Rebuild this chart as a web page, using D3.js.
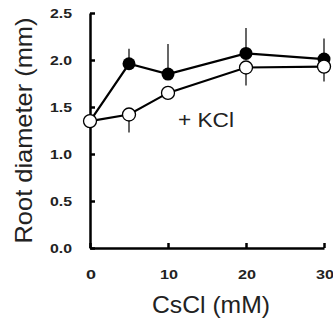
<!DOCTYPE html>
<html>
<head>
<meta charset="utf-8">
<script src="https://cdn.jsdelivr.net/npm/d3@7"></script>
<style>
  body { margin: 0; background: #fff; }
  text { font-family: "Liberation Sans", Arial, sans-serif; }
</style>
</head>
<body>
<script>
const width = 333;
const height = 323;

const conc = [0, 5, 10, 20, 30];
const csOnly = [1.35, 1.96, 1.85, 2.07, 2.01];
const csOnlyErrUp = [0, 0.16, 0.32, 0.27, 0.22];
const withKcl = [1.35, 1.42, 1.65, 1.92, 1.93];
const withKclErrDown = [0, 0.19, 0, 0.19, 0.16];
const xTicks = [0, 10, 20, 30];
const yTicks = [0, 0.5, 1.0, 1.5, 2.0, 2.5];

const margin = { left: 90, right: 9, top: 13, bottom: 75 };

const svg = d3.select('body')
  .append('svg')
  .attr('width', width)
  .attr('height', height);

const x = d3.scaleLinear().domain([0, 30]).range([margin.left, width - margin.right]);
const y = d3.scaleLinear().domain([0, 2.5]).range([height - margin.bottom, margin.top]);

// axes, ticks pointing inward
svg.append('g')
  .attr('transform', `translate(0,${y(0)})`)
  .call(d3.axisTop(x).tickValues(xTicks).tickSize(5).tickSizeOuter(0).tickFormat(''));
svg.append('g')
  .attr('transform', `translate(${x(0)},0)`)
  .call(d3.axisRight(y).tickValues(yTicks).tickSize(5).tickSizeOuter(0).tickFormat(''));
svg.selectAll('.domain, .tick line').attr('stroke', '#000').attr('stroke-width', 2.5);

// the original is stretched sideways, so labels get a textLength
svg.selectAll('.xlab')
  .data(xTicks)
  .enter().append('text')
  .attr('x', d => x(d) + 1)
  .attr('y', y(0) + 31)
  .attr('text-anchor', 'middle')
  .attr('font-size', 13)
  .attr('font-weight', 'bold')
  .attr('fill', '#222')
  .attr('textLength', d => d === 0 ? 10 : 18)
  .attr('lengthAdjust', 'spacingAndGlyphs')
  .text(d => d);

svg.selectAll('.ylab')
  .data(yTicks)
  .enter().append('text')
  .attr('x', x(0) - 18)
  .attr('y', d => y(d) + 4.5)
  .attr('text-anchor', 'end')
  .attr('font-size', 12)
  .attr('font-weight', 'bold')
  .attr('fill', '#222')
  .attr('textLength', 22)
  .attr('lengthAdjust', 'spacingAndGlyphs')
  .text(d => d.toFixed(1));

svg.append('text')
  .attr('transform', `translate(32,${(y(0) + y(2.5)) / 2}) rotate(-90)`)
  .attr('text-anchor', 'middle')
  .attr('font-size', 24)
  .attr('fill', '#222')
  .attr('textLength', 226)
  .attr('lengthAdjust', 'spacingAndGlyphs')
  .text('Root diameter (mm)');

svg.append('text')
  .attr('x', 211)
  .attr('y', 313)
  .attr('text-anchor', 'middle')
  .attr('font-size', 24)
  .attr('fill', '#222')
  .attr('textLength', 118)
  .attr('lengthAdjust', 'spacingAndGlyphs')
  .text('CsCl (mM)');

svg.append('text')
  .attr('x', 178)
  .attr('y', 127)
  .attr('font-size', 20)
  .attr('fill', '#222')
  .attr('textLength', 56)
  .attr('lengthAdjust', 'spacingAndGlyphs')
  .text('+ KCl');

// error bars
svg.selectAll('.errUp')
  .data(conc)
  .enter().append('line')
  .attr('x1', d => x(d)).attr('x2', d => x(d))
  .attr('y1', (d, i) => y(csOnly[i]))
  .attr('y2', (d, i) => y(csOnly[i] + csOnlyErrUp[i]))
  .attr('stroke', '#000').attr('stroke-width', 1.2);

svg.selectAll('.errDown')
  .data(conc)
  .enter().append('line')
  .attr('x1', d => x(d)).attr('x2', d => x(d))
  .attr('y1', (d, i) => y(withKcl[i]))
  .attr('y2', (d, i) => y(withKcl[i] - withKclErrDown[i]))
  .attr('stroke', '#000').attr('stroke-width', 1.2);

const line = d3.line().x((d, i) => x(conc[i])).y(d => y(d));

svg.append('path').datum(csOnly).attr('d', line)
  .attr('fill', 'none').attr('stroke', '#000').attr('stroke-width', 2.2);
svg.append('path').datum(withKcl).attr('d', line)
  .attr('fill', 'none').attr('stroke', '#000').attr('stroke-width', 2.2);

svg.selectAll('.dotFilled')
  .data(csOnly)
  .enter().append('circle')
  .attr('cx', (d, i) => x(conc[i])).attr('cy', d => y(d))
  .attr('r', 6.5).attr('fill', '#000');

svg.selectAll('.dotOpen')
  .data(withKcl)
  .enter().append('circle')
  .attr('cx', (d, i) => x(conc[i])).attr('cy', d => y(d))
  .attr('r', 6.5).attr('fill', '#fff').attr('stroke', '#000').attr('stroke-width', 1.3);
</script>
</body>
</html>
